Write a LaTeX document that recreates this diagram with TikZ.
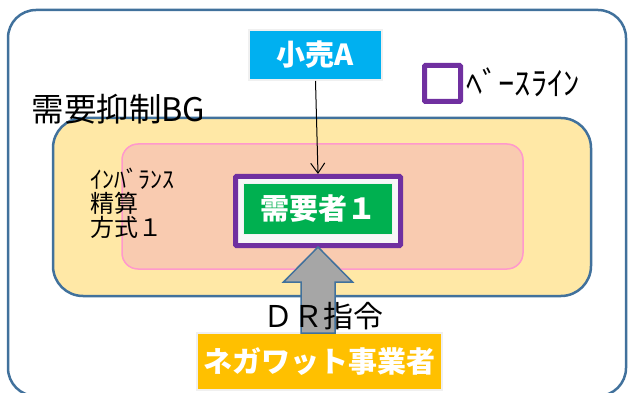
\documentclass[tikz,border=0pt]{standalone}
\usepackage{amsmath}
\usepackage{fontspec}
\setmainfont{Noto Sans CJK JP}
\usetikzlibrary{arrows.meta,calc}
\definecolor{bgblue}{HTML}{41719C}
\definecolor{bgyellow}{HTML}{FFE8A6}
\definecolor{imbfill}{HTML}{F9CBB0}
\definecolor{imbline}{HTML}{FF99CC}
\definecolor{basepurple}{HTML}{7030A0}
\definecolor{jgreen}{HTML}{00B050}
\definecolor{kcyan}{HTML}{00B0F0}
\definecolor{norange}{HTML}{FFC000}
\definecolor{drgray}{HTML}{A6A6A6}
\begin{document}
\begin{tikzpicture}[x=1pt,y=-1pt,
		actor/.style={draw=gray!12, line width=2pt, text=white, font=\bfseries\fontsize{29}{29}\selectfont, inner sep=0pt},
		baseframe/.style={draw=basepurple, line width=5pt, fill=gray!6, rounded corners=1pt, inner sep=0pt}]
		\useasboundingbox (0,0) rectangle (632,393);
		\draw[bgblue, line width=2.5pt, rounded corners=28] (8,10) rectangle (626,396);
		\draw[bgblue, line width=2.5pt, fill=bgyellow, rounded corners=30] (53,118) rectangle (591,296);
		\draw[imbline, line width=1.5pt, fill=imbfill, rounded corners=16] (122,144) rectangle (523,269);
		\node[anchor=west, font=\fontsize{32.5}{32}\selectfont] (bglabel) at (28,109) {需要抑制BG};
		\node[anchor=north west, align=left, font=\fontsize{24}{24}\selectfont, inner sep=0pt] (imblabel) at (90,168) {ｲﾝﾊﾞﾗﾝｽ\\精算\\方式１};
		\node[baseframe, minimum width=165, minimum height=69] (base) at (318,211) {};
		\node[actor, fill=jgreen, draw=gray!10, line width=1pt, minimum width=149, minimum height=51] (juyosha) at (318,209) {需要者１};
		\node[actor, fill=kcyan, minimum width=133, minimum height=50] (kouri) at (315.5,55) {小売A};
		\node[baseframe, fill=white, minimum width=36, minimum height=36] (legend) at (442.5,83.5) {};
		\node[anchor=west, font=\fontsize{32.5}{32}\selectfont, inner sep=0pt] (legendlabel) at ($(legend.east)+(3,-1)$) {ﾍﾞｰｽﾗｲﾝ};
		\draw[line width=1pt, -{Straight Barb[length=10pt,width=14pt]}] (kouri.south) -- (base.north);
		\node[actor, fill=norange, minimum width=245, minimum height=57] (nega) at (319.5,361.5) {ネガワット事業者};
		\coordinate (tip) at ($(base.south)+(0,-1)$);
		\coordinate (foot) at (tip |- nega.north);
		\draw[bgblue, line width=1.5pt, fill=drgray, line join=miter]
			($(foot)+(-17,1)$) -- ($(tip)+(-17,35)$) -- ($(tip)+(-34.5,35)$) -- (tip)
			-- ($(tip)+(34.5,35)$) -- ($(tip)+(17,35)$) -- ($(foot)+(17,1)$) -- cycle;
		\node[font=\fontsize{30}{30}\selectfont] (dr) at (323,316) {ＤＲ指令};
	\end{tikzpicture}
\end{document}
